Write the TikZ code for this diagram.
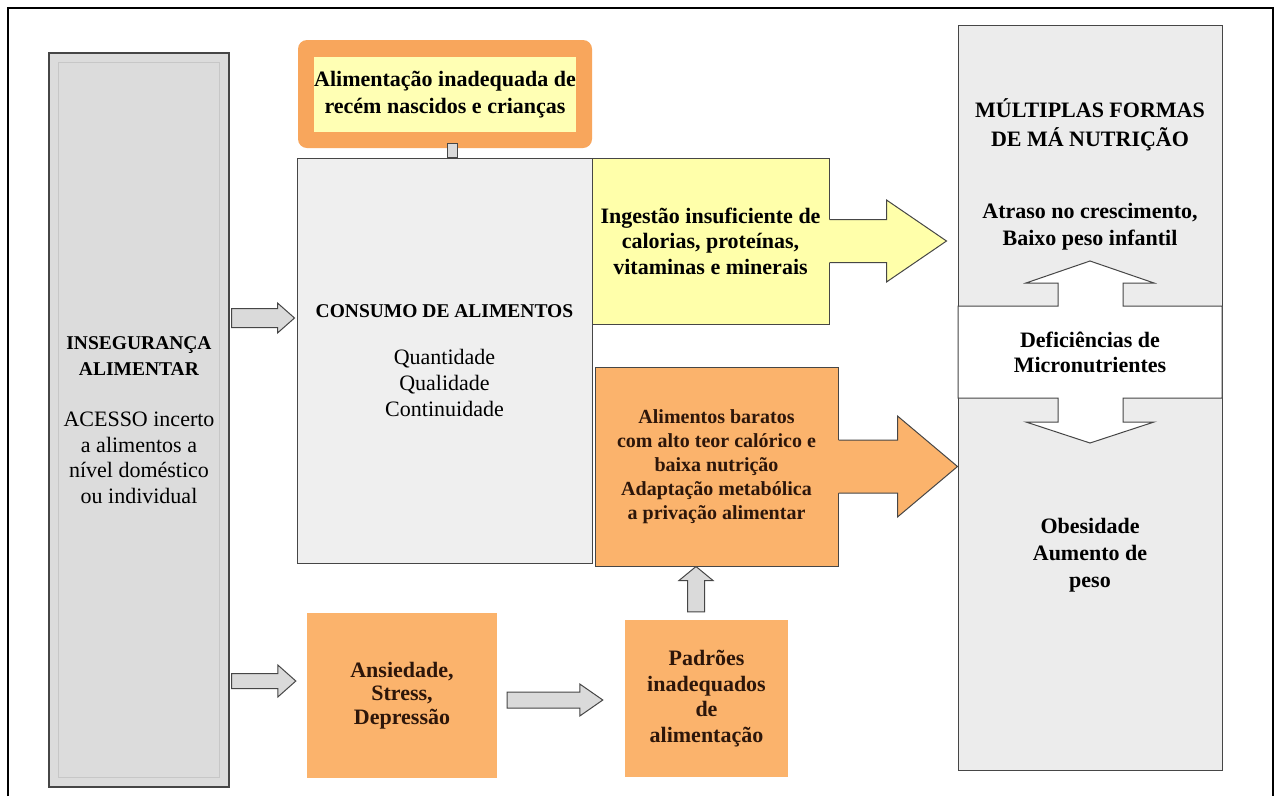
\documentclass[tikz,border=0pt]{standalone}
\usepackage{fontspec}
\setmainfont{Liberation Serif}
\usetikzlibrary{calc}
\definecolor{orangeA}{RGB}{251,179,108}
\definecolor{orangeB}{RGB}{248,166,92}
\definecolor{yellowA}{RGB}{255,255,180}
\definecolor{yellowB}{RGB}{255,255,170}
\definecolor{grayA}{RGB}{220,220,220}
\definecolor{grayB}{RGB}{239,239,239}
\definecolor{grayC}{RGB}{236,236,236}
\definecolor{edgeC}{RGB}{70,70,70}
\definecolor{arrowC}{RGB}{218,218,218}
\definecolor{brownT}{RGB}{45,22,10}
\newcommand\harr[6]{% style, start, tip, shaft half, head half, head length
  \draw[#1] let \p1=(#2), \p2=(#3) in
    (\x1,\y1+#4) -- (\x2-#6,\y1+#4) -- (\x2-#6,\y1+#5) -- (\x2,\y1)
    -- (\x2-#6,\y1-#5) -- (\x2-#6,\y1-#4) -- (\x1,\y1-#4) -- cycle;}
\newcommand\uarr[6]{% style, start, tip (above), shaft half, head half, head length
  \draw[#1] let \p1=(#2), \p2=(#3) in
    (\x1+#4,\y1) -- (\x1+#4,\y2-#6) -- (\x1+#5,\y2-#6) -- (\x1,\y2)
    -- (\x1-#5,\y2-#6) -- (\x1-#4,\y2-#6) -- (\x1-#4,\y1) -- cycle;}
\newcommand\carr[6]{% fill colour, start (box east), tip, shaft half, head half, head length
  \fill[#1] let \p1=(#2), \p2=(#3) in
    (\x1-2pt,\y1+#4) -- (\x2-#6,\y1+#4) -- (\x2-#6,\y1+#5) -- (\x2,\y1)
    -- (\x2-#6,\y1-#5) -- (\x2-#6,\y1-#4) -- (\x1-2pt,\y1-#4) -- cycle;
  \draw[draw=edgeC, line width=1pt] let \p1=(#2), \p2=(#3) in
    (\x1,\y1+#4) -- (\x2-#6,\y1+#4) -- (\x2-#6,\y1+#5) -- (\x2,\y1)
    -- (\x2-#6,\y1-#5) -- (\x2-#6,\y1-#4) -- (\x1,\y1-#4);}
\tikzset{
  box/.style={rectangle, inner sep=0pt, align=center},
  blk/.style={fill=arrowC, draw=edgeC, line width=1pt, line join=miter},
  txt/.style={inner sep=0pt, align=center, font=\bfseries\fontsize{22}{27}\selectfont}
}
\begin{document}
\begin{tikzpicture}[x=1pt,y=-1pt]
\useasboundingbox (0,0) rectangle (1280,796);
\fill[white] (0,0) rectangle (1280,796);
% outer frame (open at the bottom)
\draw[line width=2pt] (8,796) -- (8,7.5) -- (1272.5,7.5) -- (1272.5,796);

% left column
\node[box, fill=grayA, draw=edgeC, line width=1.3pt, minimum width=180pt, minimum height=734pt,
      font=\fontsize{22}{25.5}\selectfont] (ins) at (139,420)
  {{\fontsize{19.5}{25.5}\selectfont\textbf{INSEGURANÇA}}\\
   {\fontsize{19.5}{25.5}\selectfont\textbf{ALIMENTAR}}\\[26pt]
   ACESSO incerto\\a alimentos a\\nível doméstico\\ou individual};
\draw[draw=black!22, line width=0.8pt] ($(ins.north west)+(10pt,-10pt)$) rectangle ($(ins.south east)+(-10pt,10pt)$);

% top box
\node[box, fill=orangeB, rounded corners=9pt, minimum width=294pt, minimum height=108pt] (topo) at (445,94) {};
\node[box, fill=yellowA, minimum width=260pt, minimum height=75pt,
      font=\bfseries\fontsize{22}{27}\selectfont] (topi) at (445,94.5)
  {Alimentação inadequada de\\recém nascidos e crianças};

% consumo
\node[box, fill=grayB, draw=edgeC, line width=1pt, minimum width=295pt, minimum height=405pt,
      font=\fontsize{22}{26}\selectfont] (cons) at (444.5,360.5)
  {{\fontsize{19.5}{26}\selectfont\textbf{CONSUMO DE ALIMENTOS}}\\[21pt]
   Quantidade\\Qualidade\\Continuidade};
\draw[blk] ($(topo.south)+(2pt,5pt)$) rectangle ($(cons.north)+(12.5pt,0pt)$);

% ingestao
\node[box, fill=yellowB, draw=edgeC, line width=1pt, minimum width=237pt, minimum height=166pt] (ing) at (710.5,241) {};
% alimentos baratos
\node[box, fill=orangeA, draw=edgeC, line width=1pt, minimum width=243pt, minimum height=199pt] (ali) at (716.5,466.5) {};

% right column
\node[box, fill=grayC, draw=edgeC, line width=1pt, minimum width=264pt, minimum height=745pt] (mul) at (1090,397.5) {};
\filldraw[fill=white, draw=edgeC, line width=1pt, line join=miter]
  (958,306) -- (1058,306) -- (1058,283) -- (1026,283) -- (1090,261) -- (1154,283)
  -- (1123,283) -- (1123,306) -- (1222,306) -- (1222,398) -- (1123,398) -- (1123,422)
  -- (1154,422) -- (1090,443) -- (1026,422) -- (1058,422) -- (1058,398) -- (958,398) -- cycle;
\node[txt, font=\bfseries\fontsize{22}{29}\selectfont] (mf) at (1090,125) {MÚLTIPLAS FORMAS\\DE MÁ NUTRIÇÃO};
\node[txt] (atr) at (1090,226.5) {Atraso no crescimento,\\Baixo peso infantil};
\node[txt, font=\bfseries\fontsize{22}{25}\selectfont] (def) at (1090,352.5) {Deficiências de\\Micronutrientes};
\node[txt] (obe) at (1090,555) {Obesidade\\Aumento de\\peso};

% merged arrows
\coordinate (ingtip) at ($(mul.west |- ing.east)+(-11pt,0)$);
\carr{yellowB}{ing.east}{ingtip}{21.5pt}{41pt}{60pt}
\node[txt, font=\bfseries\fontsize{22}{25.5}\selectfont] (ingt) at (ing.center) {Ingestão insuficiente de\\calorias, proteínas,\\vitaminas e minerais};
\coordinate (alitip) at (mul.west |- ali.east);
\carr{orangeA}{ali.east}{alitip}{26.5pt}{50.5pt}{60pt}
\node[txt, text=brownT, font=\bfseries\fontsize{20}{24}\selectfont] (alit) at (ali.center)
  {Alimentos baratos\\com alto teor calórico e\\baixa nutrição\\Adaptação metabólica\\a privação alimentar};

% bottom boxes
\node[box, fill=orangeA, minimum width=190pt, minimum height=165pt, text=brownT,
      font=\bfseries\fontsize{22}{23.5}\selectfont] (ans) at (402,695.5) {Ansiedade,\\Stress,\\Depressão};
\node[box, fill=orangeA, minimum width=163pt, minimum height=157pt, text=brownT,
      font=\bfseries\fontsize{22}{25.5}\selectfont] (pad) at (706.5,698.5) {Padrões\\inadequados\\de\\alimentação};

% block arrows
\coordinate (a1) at ($(ins.east)+(2pt,0)$);
\coordinate (a1s) at (a1 |- 0,318);
\coordinate (a1t) at ($(cons.west |- a1s)+(-2pt,0)$);
\harr{blk}{a1s}{a1t}{9.5pt}{15pt}{17pt}
\coordinate (a2s) at (a1 |- 0,681);
\coordinate (a2t) at ($(ans.west |- a2s)+(-11pt,0)$);
\harr{blk}{a2s}{a2t}{7.5pt}{16pt}{18pt}
\coordinate (a3s) at ($(ans.east |- 0,700)+(10pt,0)$);
\coordinate (a3t) at ($(pad.west |- a3s)+(-22pt,0)$);
\harr{blk}{a3s}{a3t}{8pt}{16pt}{23pt}
\coordinate (a4s) at ($(pad.north)+(-10.5pt,8pt)$);
\coordinate (a4t) at (a4s |- ali.south);
\uarr{blk}{a4s}{a4t}{8.5pt}{17pt}{14pt}
\end{tikzpicture}
\end{document}
